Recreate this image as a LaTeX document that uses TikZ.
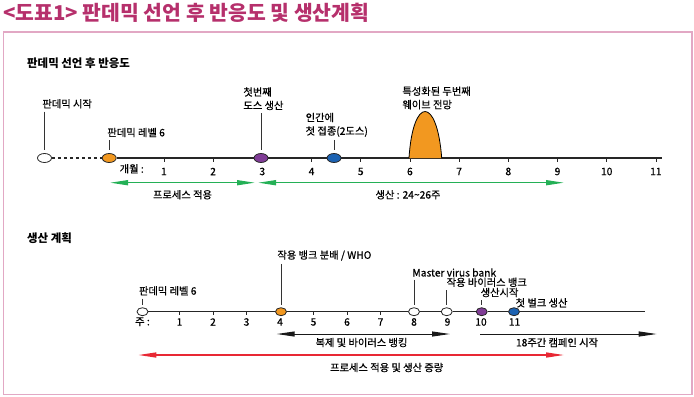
\documentclass[tikz,border=0pt]{standalone}
\usepackage{fontspec}
\setmainfont{Noto Sans CJK KR}
\newfontfamily\lblf{Noto Sans CJK KR}[FakeBold=0.6]
\usepackage{tikz}
\usetikzlibrary{arrows.meta,shapes.geometric}
\definecolor{ttl}{RGB}{182,48,108}
\definecolor{frm}{RGB}{226,168,196}
\definecolor{org}{RGB}{242,152,32}
\definecolor{prp}{RGB}{128,60,150}
\definecolor{blu}{RGB}{28,98,178}
\definecolor{grn}{RGB}{36,176,86}
\definecolor{rd}{RGB}{232,40,52}

\begin{document}
\begin{tikzpicture}[x=1bp,y=-1bp,font=\lblf\fontsize{10.3}{13.5}\selectfont,
  lbl/.style={anchor=west,inner sep=0.5bp,align=left},
  num/.style={inner sep=0.5bp},
  dot/.style={draw=black!85,ellipse,line width=0.8bp,fill=white,minimum width=14bp,
              minimum height=9bp,inner sep=0},
  sdot/.style={dot,minimum width=11bp,minimum height=8bp},
  axis/.style={line width=1.1bp,black!85},
  tick/.style={line width=0.8bp,black!85},
  pin/.style={line width=0.7bp,black!80,shorten <=2.5bp,shorten >=2bp},
  span/.style={line width=1.4bp,{Triangle[length=18bp,width=5bp]}-{Triangle[length=18bp,width=5bp]}},
  hd/.style={anchor=west,inner sep=0,font=\rmfamily\fontsize{11.5}{14}\selectfont\bfseries}]
  \useasboundingbox (0,0) rectangle (694,396);

  % ---------- title and frame ----------
  \node[anchor=west,inner sep=0,text=ttl,font=\rmfamily\fontsize{20.5}{24}\selectfont\bfseries] (title) at (3,13)
        {<도표1> 판데믹 선언 후 반응도 및 생산계획};
  \draw[frm,line width=1.2bp] (3.5,32) rectangle (692,394.5);

  % ---------- response after the declaration ----------
  \node[hd] (hdA) at (27,63) {판데믹 선언 후 반응도};
  \node[num] (monl) at (131.7,168.8) {개월 :};
  \foreach \i in {1,...,11} {
    \coordinate (m\i) at ({114.7+49.2*\i},158);
    \draw[tick] (m\i) -- ++(0,3.5);
    \node[num] (mn\i) at ({114.7+49.2*\i},171.5) {\i};
  }
  \node[dot] (st) at (44.5,158) {};
  \node[dot,fill=org] (lv6) at (109.2,158) {};
  \node[dot,fill=prp] (dose) at (261,158) {};
  \node[dot,fill=blu] (vacc) at (334,158) {};
  \coordinate (endA) at (661.7,158);
  \draw[axis,dashed,dash pattern=on 3bp off 3bp] (st) -- (lv6);
  \draw[axis] (lv6) -- (dose) -- (vacc) -- (endA);
  % second wave
  \coordinate (w0) at (409,158); \coordinate (w1) at (441.7,158);
  \draw[fill=org,line width=0.8bp] (w0) .. controls (413,96) and (437,96) .. (w1);

  \node[lbl] (stl) at (41.7,103.8) {판데믹 시작};
  \node[lbl] (lv6l) at (106.7,132.5) {판데믹 레벨 6};
  \node[lbl] (dosel) at (242.7,98.7) {첫번째\\도스 생산};
  \node[lbl] (vaccl) at (305,124.8) {인간에\\첫 접종(2도스)};
  \node[lbl] (wavel) at (401.7,97.9) {특성화된 두번째\\웨이브 전망};
  \draw[pin,shorten >=3.5bp] (stl.south -| st) -- (st.north);
  \draw[pin,shorten >=3.5bp] (lv6l.south -| lv6) -- (lv6.north);
  \draw[pin,shorten >=3.5bp] (dosel.south -| dose) -- (dose.north);
  \draw[pin,shorten >=3.5bp] (vaccl.south -| vacc) -- (vacc.north);

  \coordinate (ga0) at (110,182.7); \coordinate (ga1) at (255,182.7);
  \coordinate (gb0) at (258,182.7); \coordinate (gb1) at (564,182.7);
  \draw[span,grn] (ga0) -- (ga1);
  \draw[span,grn] (gb0) -- (gb1);
  \node[num] (adapt) at (182.5,194.7) {프로세스 적용};
  \node[num] (prodA) at (408,194.7) {생산 : 24\textasciitilde26주};

  % ---------- production plan ----------
  \node[hd] (hdB) at (27,238.3) {생산 계획};
  \node[num] (wkl) at (142.5,321.7) {주 :};
  \foreach \i in {1,...,11} {
    \coordinate (k\i) at ({146+33.5*\i},311.7);
    \draw[tick] (k\i) -- ++(0,3.5);
    \node[num] (kn\i) at ({146+33.5*\i},322) {\i};
  }
  \node[sdot] (st2) at (142.5,311.7) {};
  \node[sdot,fill=org] (dist) at (281,311.7) {};
  \node[sdot] (mvb) at (414,311.7) {};
  \node[sdot] (wvb) at (446.7,311.7) {};
  \node[sdot,fill=prp] (prod) at (481.7,311.7) {};
  \node[sdot,fill=blu] (bulk) at (514,311.7) {};
  \coordinate (endB) at (645,311.7);
  \draw[axis] (st2) -- (dist) -- (mvb) -- (wvb) -- (prod) -- (bulk) -- (endB);

  \node[lbl] (st2l) at (138.3,290.8) {판데믹 레벨 6};
  \node[lbl] (distl) at (276.7,255.5) {작용 뱅크 분배 / WHO};
  \node[lbl] (mvbl) at (411.7,272.5) {Master virus bank};
  \node[lbl] (wvbl) at (446,282.3) {작용 바이러스 뱅크};
  \node[lbl] (prodl) at (480,292.5) {생산시작};
  \node[lbl] (bulkl) at (515,302.8) {첫 벌크 생산};
  \draw[pin] (st2l.south -| st2) -- (st2.north);
  \draw[pin] (distl.south -| dist) -- (dist.north);
  \draw[pin] (mvbl.south -| mvb) -- (mvb.north);
  \draw[pin] (wvbl.south -| wvb) -- (wvb.north);
  \draw[pin] (prodl.south -| prod) -- (prod.north);

  \coordinate (ka0) at (276.7,334); \coordinate (ka1) at (450,334);
  \coordinate (kb0) at (480,334); \coordinate (kb1) at (656.7,334);
  \coordinate (ra0) at (138.3,355); \coordinate (ra1) at (564,355);
  \draw[span,line width=1bp,black!90] (ka0) -- (ka1);
  \draw[line width=1bp,black!90,-{Triangle[length=18bp,width=5bp]}] (kb0) -- (kb1);
  \draw[span,rd] (ra0) -- (ra1);
  \node[num] (bank) at (361.5,342.5) {복제 및 바이러스 뱅킹};
  \node[num] (camp) at (557,342.5) {18주간 캠페인 시작};
  \node[num] (scale) at (386.7,367.5) {프로세스 적용 및 생산 증량};
\end{tikzpicture}
\end{document}
